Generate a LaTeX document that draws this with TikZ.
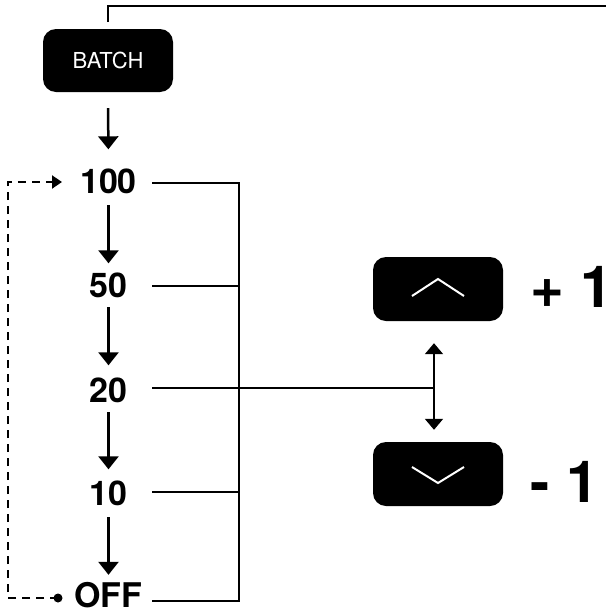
\documentclass[tikz,border=0pt]{standalone}
\usepackage{fontspec}
\setmainfont{TeX Gyre Heros}
\usetikzlibrary{arrows.meta,calc}
\tikzset{
  keybox/.style={fill=black, rounded corners=13pt, minimum width=130pt, minimum height=64pt, inner sep=0pt, text=white},
  lbl/.style={inner sep=0pt, anchor=base, text height=24pt, text depth=0pt, font=\fontsize{34}{40}\selectfont\bfseries},
  big/.style={inner sep=0pt, anchor=base west, font=\fontsize{58}{68}\selectfont\bfseries},
  flow/.style={line width=2.5pt, -{Triangle[width=20pt,length=13pt]}},
  wire/.style={line width=2pt},
  toplink/.style={line width=1.5pt},
  loopline/.style={line width=2pt, dash pattern=on 8pt off 6pt, -{Triangle[width=13pt,length=10pt]}},
  dbl/.style={line width=2pt, {Triangle[width=18pt,length=11pt]}-{Triangle[width=18pt,length=11pt]}},
  chev/.style={white, line width=2pt}
}
\begin{document}
\begin{tikzpicture}[x=1pt,y=-1pt]
\useasboundingbox (0,0) rectangle (606,611);
% keys
\node[keybox, minimum height=63pt, font=\fontsize{22}{26}\selectfont] (batch) at (108,60.5) {BATCH};
\node[keybox] (up) at (438,289) {};
\node[keybox] (down) at (438,474) {};
\draw[chev] ([shift={(-26,7)}]up.center) -- ([shift={(0,-10)}]up.center) -- ([shift={(26,7)}]up.center);
\draw[chev] ([shift={(-26,-7)}]down.center) -- ([shift={(0,9)}]down.center) -- ([shift={(26,-7)}]down.center);
\node[big] (plus) at (530.5,307) {+ 1};
\node[big] (minus) at (530.5,502) {- 1};
% labels
\node[lbl] (n100) at (108.5,193) {100};
\node[lbl] (n50) at (108.5,297) {50};
\node[lbl] (n20) at (108.5,402) {20};
\node[lbl] (n10) at (108.5,505) {10};
\node[lbl] (noff) at (108.5,607) {OFF};
% coordinates
\coordinate (bus) at (239,0);
\coordinate (ax) at (434,0);
\coordinate (w100) at (152,183);
\coordinate (w50) at (152,286);
\coordinate (w20) at (152,388);
\coordinate (w10) at (152,492);
\coordinate (woff) at (152,601);
\coordinate (topstart) at (108,22);
\coordinate (topend) at (606,6);
\coordinate (dot) at (58,598);
\coordinate (lb) at (8,598);
\coordinate (lt) at (8,182);
\coordinate (tip) at (62,182);
% top link
\draw[toplink] (topstart) |- (topend);
% flow arrows
\draw[flow, shorten <=16pt, shorten >=19.5pt] (batch.south) -- (n100.north);
\draw[flow, shorten <=12pt, shorten >=9.5pt] (n100.south) -- (n50.north);
\draw[flow, shorten <=10pt, shorten >=12.5pt] (n50.south) -- (n20.north);
\draw[flow, shorten <=10pt, shorten >=11.5pt] (n20.south) -- (n10.north);
\draw[flow, shorten <=12pt, shorten >=8pt] (n10.south) -- (noff.north);
% wires and bus
\draw[wire] (w100) -- (w100 -| bus);
\draw[wire] (w50) -- (w50 -| bus);
\draw[wire] (w10) -- (w10 -| bus);
\draw[wire] (woff) -- (woff -| bus);
\draw[wire] (w20) -- (w20 -| ax);
\draw[line width=2.5pt] ([yshift=1pt]w100 -| bus) -- ([yshift=-1pt]woff -| bus);
% up/down arrow
\draw[dbl, shorten <=22pt, shorten >=12pt] (up.south -| ax) -- (down.north -| ax);
% dashed loop
\fill (dot) circle (4.5pt);
\draw[loopline] (dot) -- (lb) -- (lt) -- (tip);
\end{tikzpicture}
\end{document}
